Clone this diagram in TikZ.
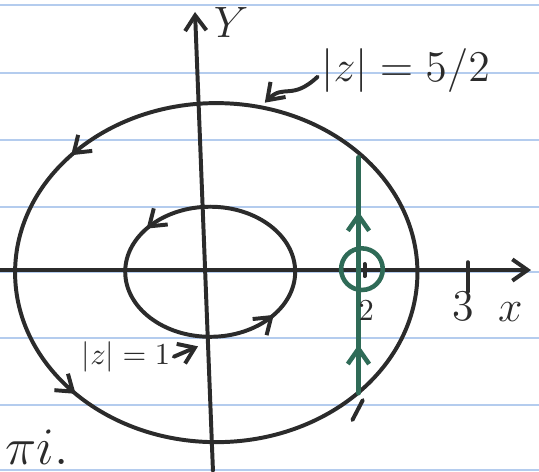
\documentclass[tikz,border=0pt]{standalone}
\usetikzlibrary{arrows.meta, decorations.markings}
\definecolor{inkdark}{HTML}{2B2B2B}
\definecolor{inkgreen}{HTML}{2F6B57}
\definecolor{ruleblue}{HTML}{B4CCEE}

\begin{document}
\begin{tikzpicture}[
    >={Straight Barb[length=5pt, width=7pt]},
    ink/.style={draw=inkdark, line width=1.3pt, line cap=round},
    rule line/.style={draw=ruleblue, line width=0.7pt},
    axis line/.style={ink, ->},
    green path/.style={draw=inkgreen, line width=1.5pt, line cap=round},
    hand label/.style={text=inkdark, font=\Large, inner sep=1pt},
    flow at/.style 2 args={postaction={decorate}, decoration={markings,
        mark=at position #1 with {\arrow{>}},
        mark=at position #2 with {\arrow{>}}}},
]

% ══════════════════════════════════════════════════════════════════════
%  PAGE — ruled notebook lines
% ══════════════════════════════════════════════════════════════════════
\useasboundingbox (-2.364,-2.318) rectangle (3.852,3.114);
\foreach \ry in {3.056, 2.272, 1.499, 0.727, -0.023, -0.784, -1.557, -2.307}
  \draw[rule line] (-2.364,\ry) -- (3.852,\ry);

% ══════════════════════════════════════════════════════════════════════
%  AXES
% ══════════════════════════════════════════════════════════════════════
\coordinate (xstart) at (-2.364,0);
\coordinate (xend)   at (3.76,0);
\coordinate (ystart) at (0.092,-2.318);
\coordinate (yend)   at (-0.115,2.976);
\draw[axis line] (xstart) -- (xend);
\draw[axis line] (ystart) -- (yend);

\node[hand label] (ylab) at (0.30,2.86) {$Y$};
\node[hand label] (xlab) at (3.52,-0.48) {$x$};

% tick at 3
\coordinate (t3top) at (3.03,0.09);
\coordinate (t3bot) at (3.03,-0.25);
\draw[ink] (t3top) -- (t3bot);
\node[hand label] (lab3) at (2.98,-0.42) {3};

% ══════════════════════════════════════════════════════════════════════
%  CONTOURS
% ══════════════════════════════════════════════════════════════════════
% outer |z| = 5/2
\draw[ink, flow at={0.385}{0.62}] (0.13,-0.03) ellipse [x radius=2.32, y radius=1.955];
% inner |z| = 1
\draw[ink, flow at={0.395}{0.895}] (0.06,-0.02) ellipse [x radius=0.98, y radius=0.75];

% vertical line through 2 with the small circle round z = 2
\coordinate (gbot) at (1.77,-1.42);
\coordinate (gtop) at (1.77,1.30);
\draw[green path, flow at={0.205}{0.77}] (gbot) -- (gtop);
\draw[green path] (1.81,0.01) circle [radius=0.24];
\coordinate (t2top) at (1.84,0.07);
\coordinate (t2bot) at (1.84,-0.07);
\draw[ink] (t2top) -- (t2bot);
\node[hand label, font=\normalsize] (lab2) at (1.86,-0.47) {2};

% stroke below the line
\coordinate (sA) at (1.82,-1.50);
\coordinate (sB) at (1.70,-1.73);
\draw[ink] (sA) -- (sB);

% ══════════════════════════════════════════════════════════════════════
%  LABELS
% ══════════════════════════════════════════════════════════════════════
\node[hand label, anchor=west] (labout) at (1.30,2.30) {$|z|=5/2$};
\coordinate (outtouch) at (0.69,1.93);
\draw[ink, ->] ([yshift=-2pt]labout.west) .. controls +(-0.30,-0.28) and +(0.22,0.22) .. (outtouch);

\node[hand label, font=\normalsize, anchor=east] (labin) at (-0.36,-1.00) {$|z|=1$};
\coordinate (intouch) at (-0.08,-0.88);
\draw[ink, ->] (labin.east) -- (intouch);

\node[hand label, font=\LARGE, anchor=south west] (labpi) at (-2.34,-2.29) {$\pi i.$};

\end{tikzpicture}
\end{document}
